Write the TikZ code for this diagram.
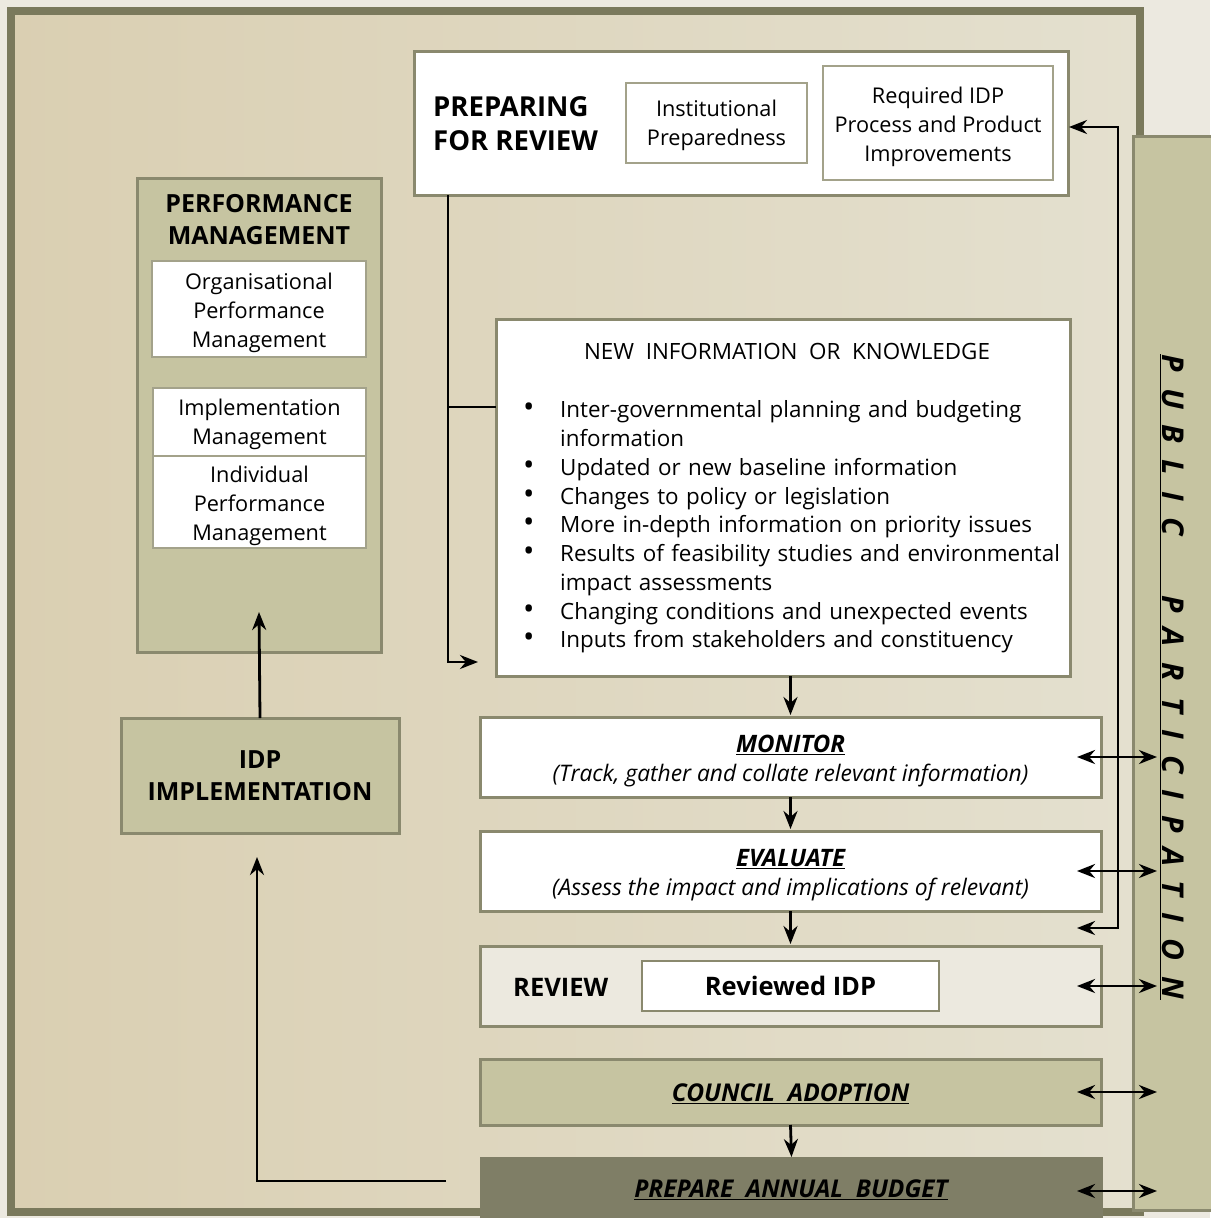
\documentclass[tikz,border=0pt]{standalone}
\usepackage{fontspec}
\setmainfont{Open Sans}
\usetikzlibrary{arrows.meta,calc}
\definecolor{outbg}{RGB}{236,233,224}
\definecolor{inbgL}{RGB}{218,207,178}
\definecolor{inbgR}{RGB}{228,224,207}
\definecolor{framec}{RGB}{122,121,92}
\definecolor{olive}{RGB}{198,196,161}
\definecolor{edgec}{RGB}{138,137,110}
\definecolor{thinc}{RGB}{163,162,138}
\definecolor{darkc}{RGB}{127,126,102}
\definecolor{palec}{RGB}{236,233,223}
\newcommand\fbody{\fontsize{21.7}{29}\selectfont}
\newcommand\flist{\fontsize{22.4}{28.75}\selectfont}
\newcommand\fsub{\fontsize{22.8}{29}\selectfont}
\newcommand\bitem[1]{\par\noindent\hangindent=38pt\hangafter=1\makebox[38pt][l]{\hspace{1pt}\scalebox{1.35}{\textbullet}}#1}
\begin{document}
\begin{tikzpicture}[x=1pt,y=-1pt,
  sz/.style 2 args={minimum width=#1pt, minimum height=#2pt, anchor=north west, inner sep=0pt, outer sep=0pt},
  bigbox/.style={draw=edgec, line width=3pt},
  whitebox/.style={bigbox, fill=white},
  olivebox/.style={bigbox, fill=olive},
  thinbox/.style={draw=thinc, line width=1.5pt, fill=white},
  txt/.style={inner sep=0pt, align=center, font=\fbody},
  ttl/.style={inner sep=0pt, align=center, font=\fontsize{#1}{32}\selectfont\bfseries},
  arr/.style={line width=2.8pt, -{Stealth[length=18pt,width=14pt]}},
  darr/.style={line width=2.8pt, {Stealth[length=18pt,width=14pt]}-{Stealth[length=18pt,width=14pt]}}
]
% background and frame
\fill[outbg] (0,0) rectangle (1210,1218);
\useasboundingbox (0,0) rectangle (1210,1218);
\shade[left color=inbgL, right color=inbgR] (11,11) rectangle (1140,1212);
\draw[framec, line width=8pt] (11,11) rectangle (1140,1212);

% public participation
\node[olivebox, sz={85}{1074}] (pp) at (1133,136) {};
\node[inner sep=0pt, rotate=-90, font=\fontsize{30}{32}\selectfont\bfseries\itshape] (pptext) at (1172,677)
  {\addfontfeature{LetterSpace=54}\underline{PUBLIC\hspace{60pt}PARTICIPATION}};

% preparing for review
\node[whitebox, sz={654}{144}] (pfr) at (414,51) {};
\node[ttl=27.5, anchor=west, align=left, font=\fontsize{27.5}{34}\selectfont\bfseries] (pfrtitle) at (433,124) {PREPARING\\FOR REVIEW};
\node[thinbox, sz={181}{80}] (inst) at (626,83) {};
\node[txt, yshift=-2pt] at (inst.center) {Institutional\\Preparedness};
\node[thinbox, sz={230}{114}] (req) at (823,66) {};
\node[txt, yshift=-4pt] at (req.center) {Required IDP\\Process and Product\\Improvements};

% performance management
\node[olivebox, sz={244}{474}] (pm) at (137,178) {};
\node[ttl=25] (pmtitle) at (259,220) {PERFORMANCE\\MANAGEMENT};
\node[thinbox, sz={214}{96}] (opm) at (152,261) {};
\node[txt, yshift=-4pt] at (opm.center) {Organisational\\Performance\\Management};
\node[thinbox, sz={213}{68}] (im) at (153,388) {};
\node[txt, yshift=-2pt] at (im.center) {Implementation\\Management};
\node[thinbox, sz={213}{92}] (ipm) at (153,456) {};
\node[txt, yshift=-4pt] at (ipm.center) {Individual\\Performance\\Management};
\coordinate (pmin) at (259,612);

% IDP implementation
\node[olivebox, sz={278}{115}] (idp) at (121,718) {};
\node[ttl=25] at (idp.center) {IDP\\IMPLEMENTATION};

% new information
\node[whitebox, sz={574}{357}] (ni) at (496,319) {};
\node[txt, font=\flist] (nititle) at (787,351) {NEW\ \ INFORMATION\ \ OR\ \ KNOWLEDGE};
\node[inner sep=0pt, anchor=north west, text width=545pt, align=left, font=\flist] (nilist) at (522,389) {%
\bitem{Inter-governmental planning and budgeting\newline information}
\bitem{Updated or new baseline information}
\bitem{Changes to policy or legislation}
\bitem{More in-depth information on priority issues}
\bitem{Results of feasibility studies and environmental\newline impact assessments}
\bitem{Changing conditions and unexpected events}
\bitem{Inputs from stakeholders and constituency}\par};

% process column
\node[whitebox, sz={621}{80}] (monitor) at (480,717) {};
\node[txt, font=\fsub, yshift=-4pt] at (monitor.center) {{\fontsize{24}{29}\selectfont\bfseries\itshape\underline{MONITOR}}\\\textit{(Track, gather and collate relevant information)}};
\node[whitebox, sz={621}{80}] (evaluate) at (480,831) {};
\node[txt, font=\fsub, yshift=-4pt] at (evaluate.center) {{\fontsize{24}{29}\selectfont\bfseries\itshape\underline{EVALUATE}}\\\textit{(Assess the impact and implications of relevant)}};
\node[bigbox, fill=palec, sz={621}{80}] (review) at (480,946) {};
\node[ttl=25.5, anchor=west] (reviewtxt) at (513,987) {REVIEW};
\node[draw=edgec, line width=2.5pt, fill=white, sz={297}{50}] (rid) at (642,961) {};
\node[ttl=25.5] at (rid.center) {Reviewed IDP};
\node[olivebox, sz={621}{66}] (council) at (480,1059) {};
\node[ttl=24.5] at ([yshift=-2pt]council.center) {\itshape\underline{COUNCIL\ \ ADOPTION}};
\node[fill=darkc, sz={623}{70}] (budget) at (480,1157) {};
\node[ttl=24.5] at (791,1190) {\itshape\underline{PREPARE\ \ ANNUAL\ \ BUDGET}};

% flow arrows
\draw[arr] (ni.south -| monitor.north) -- ([yshift=2pt]monitor.north);
\draw[arr] (monitor.south) -- ([yshift=2pt]evaluate.north);
\draw[arr] (evaluate.south) -- ([yshift=2pt]review.north);
\draw[arr] (council.south) -- (budget.north);

% preparing for review feed
\coordinate (pfrb) at (448,195);
\coordinate (nitip) at (478,662);
\coordinate (nibr) at (496,407);
\draw[arr] (pfrb) -- (pfrb |- nitip) -- (nitip);
\draw[line width=2.8pt] (pfrb |- nibr) -- (nibr);

% feedback loop
\coordinate (fbtop) at (1069,127);
\coordinate (fbbot) at (1077,928);
\draw[darr] (fbtop) -- (1118,127) -- (1118,928) -- (fbbot);

% public participation links
\coordinate (bdl) at (1077,1191);
\draw[darr] ([xshift=-24pt]monitor.east) -- ([xshift=24pt]pp.west |- monitor.east);
\draw[darr] ([xshift=-24pt]evaluate.east) -- ([xshift=24pt]pp.west |- evaluate.east);
\draw[darr] ([xshift=-24pt]review.east) -- ([xshift=24pt]pp.west |- review.east);
\draw[darr] ([xshift=-24pt]council.east) -- ([xshift=24pt]pp.west |- council.east);
\draw[darr] (bdl) -- ([xshift=24pt]pp.west |- bdl);

% implementation arrows
\draw[arr] (idp.north) -- (pmin);
\coordinate (bl) at (446,1181);
\coordinate (idpin) at (257,857);
\draw[arr] (bl) -- (bl -| idpin) -- (idpin);
\end{tikzpicture}
\end{document}
